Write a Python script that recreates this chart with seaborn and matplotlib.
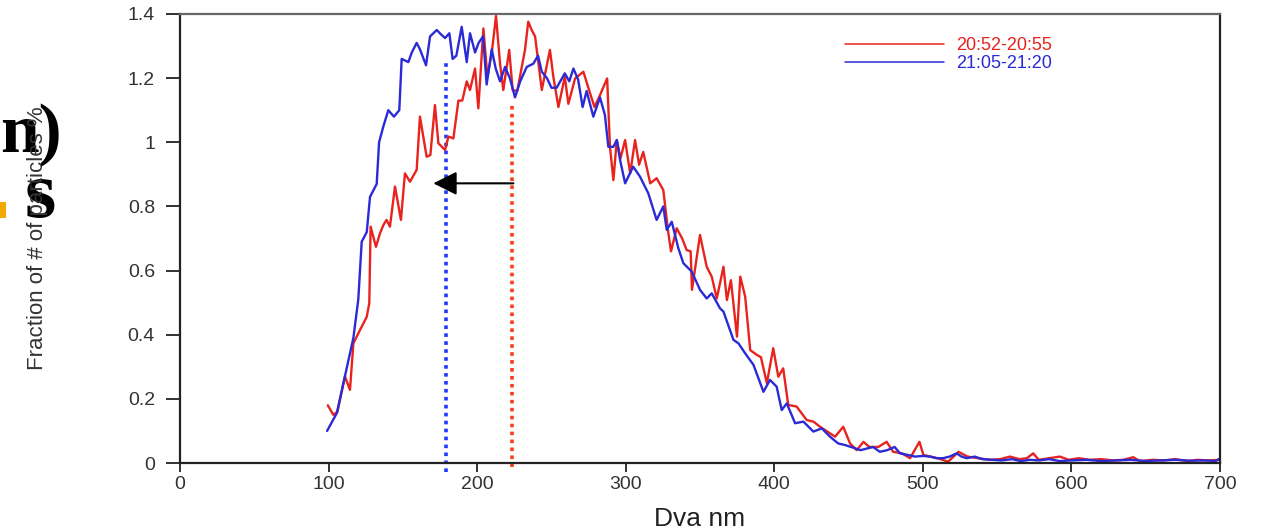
import numpy as np
import pandas as pd
import matplotlib
matplotlib.use("Agg")
import matplotlib.pyplot as plt
from matplotlib.patches import Rectangle
import seaborn as sns

# ---------------- data ----------------
series_labels = ["20:52-20:55", "21:05-21:20"]

red_x = [99.5, 103.2, 106, 111, 114.4, 116.7, 121.2, 125.7, 127.4, 128.3, 131.9, 134.6,
         136.9, 139, 141.3, 144.7, 148.7, 151.4, 154.8, 159.3, 161.5, 166, 168.5, 171.6,
         173.9, 178.4, 180.7, 184, 187.4, 190, 193, 195.2, 198.6, 200.8, 204.2, 206.9,
         209.8, 212.7, 215.4, 217.6, 221.6, 223.9, 227, 232.2, 234.4, 236.7, 239, 243.5,
         246, 249, 251.3, 254.7, 259, 261.4, 265.9, 271.5, 276, 279, 282, 287.5, 289.4,
         291.7, 294, 296.5, 299.6, 303, 306.3, 309, 311.8, 316.5, 320.8, 325.3, 328.7,
         330.5, 334.3, 338, 341, 343.7, 344.6, 350, 354.5, 357.9, 361.3, 365.8, 368.1,
         370.8, 374.9, 377.1, 380.4, 383.8, 388.3, 391, 395, 399.3, 402.7, 406, 409.4,
         415, 421.8, 426.3, 430.8, 435, 440.9, 446.4, 451, 455.5, 460, 464, 470, 475.6,
         480, 486, 491.4, 497.7, 500.4, 505, 510, 517, 524, 530, 537, 545, 552, 558.7,
         565, 570, 574.3, 578, 585, 592.3, 598, 605, 612, 620, 628, 635, 641.6, 646, 655,
         662, 670, 678, 685, 692, 700]
red_y = [0.18, 0.15, 0.16, 0.27, 0.228, 0.373, 0.415, 0.456, 0.498, 0.737, 0.674, 0.716,
         0.742, 0.758, 0.737, 0.862, 0.758, 0.903, 0.877, 0.914, 1.08, 0.955, 0.96, 1.116,
         0.997, 0.976, 1.018, 1.012, 1.13, 1.13, 1.19, 1.163, 1.23, 1.106, 1.355, 1.204,
         1.277, 1.394, 1.246, 1.163, 1.288, 1.163, 1.16, 1.288, 1.376, 1.35, 1.33, 1.163,
         1.22, 1.288, 1.204, 1.11, 1.204, 1.12, 1.199, 1.22, 1.153, 1.11, 1.14, 1.199, 0.986,
         0.882, 1.007, 0.95, 1.007, 0.903, 1.007, 0.93, 0.97, 0.872, 0.888, 0.851, 0.716,
         0.66, 0.732, 0.70, 0.664, 0.66, 0.54, 0.711, 0.612, 0.581, 0.513, 0.612, 0.508,
         0.57, 0.394, 0.581, 0.519, 0.352, 0.337, 0.33, 0.249, 0.358, 0.269, 0.295, 0.181,
         0.176, 0.134, 0.129, 0.113, 0.10, 0.082, 0.113, 0.061, 0.04, 0.066, 0.05, 0.05, 0.066,
         0.035, 0.03, 0.015, 0.066, 0.025, 0.02, 0.015, 0.004, 0.035, 0.02, 0.015, 0.01, 0.012, 0.02,
         0.012, 0.015, 0.03, 0.01, 0.015, 0.02, 0.01, 0.015, 0.01, 0.012, 0.008, 0.01, 0.018, 0.006, 0.01,
         0.008, 0.012, 0.006, 0.01, 0.008, 0.01]

blue_x = [99, 105.5, 111, 116.7, 120, 122.3, 125.7, 127.9, 132.4, 134, 136.9, 140.2, 144,
          147.6, 149.2, 153.7, 156, 159.3, 161.5, 165.6, 168.3, 172.8, 176, 178.4, 181.3,
          183.5, 186, 189.6, 193, 195.2, 198.6, 201, 204, 206.4, 209.8, 212.5, 215.4, 218.8,
          222, 225.5, 229, 233.4, 237.8, 241, 243.5, 247, 250, 253.5, 259, 262, 264.8, 268,
          271, 273.7, 278.2, 282.7, 286, 288.3, 291.7, 294, 296.2, 299.6, 305, 309.6, 315.2,
          320.8, 325.3, 327.6, 331, 335.4, 338.8, 344.4, 350, 354.5, 357.9, 363.5, 365.8,
          372.5, 375.9, 380.4, 386, 392.7, 397.1, 401.6, 405, 408.4, 414, 419.6, 426.3, 432,
          437.5, 443, 447.6, 453, 458, 466.5, 471, 476, 481, 484.6, 490, 494.7, 500, 505, 509,
          513.6, 518, 522.8, 526, 529.5, 535, 540, 547, 553, 560, 566, 572, 578, 585, 592,
          600, 610, 620, 630, 640, 650, 660, 670, 680, 690, 697, 700]
blue_y = [0.10, 0.155, 0.27, 0.39, 0.51, 0.69, 0.72, 0.83, 0.87, 1.00, 1.05, 1.10, 1.08,
          1.10, 1.26, 1.25, 1.28, 1.31, 1.29, 1.24, 1.33, 1.35, 1.335, 1.325, 1.34,
          1.26, 1.27, 1.36, 1.25, 1.34, 1.28, 1.31, 1.33, 1.18, 1.29, 1.23, 1.19, 1.235,
          1.20, 1.14, 1.19, 1.235, 1.245, 1.27, 1.22, 1.20, 1.17, 1.17, 1.215, 1.19, 1.23, 1.195,
          1.11, 1.16, 1.08, 1.14, 1.085, 0.986, 0.986, 1.007, 0.945, 0.872, 0.924, 0.893, 0.841,
          0.758, 0.80, 0.727, 0.752, 0.67, 0.623, 0.597, 0.54, 0.513, 0.529, 0.482, 0.472,
          0.384, 0.373, 0.342, 0.306, 0.222, 0.259, 0.238, 0.165, 0.186, 0.124, 0.129, 0.098, 0.108,
          0.082, 0.061, 0.056, 0.048, 0.04, 0.05, 0.035, 0.04, 0.05, 0.03, 0.025, 0.02, 0.022, 0.02, 0.015,
          0.015, 0.02, 0.03, 0.02, 0.015, 0.02, 0.012, 0.01, 0.008, 0.012, 0.006, 0.01, 0.008, 0.012, 0.006,
          0.008, 0.01, 0.006, 0.008, 0.01, 0.006, 0.008, 0.01, 0.007, 0.008, 0.006, 0.014]

# dotted marker lines (mode diameters) and arrow
marker_x = [179.0, 223.5]
marker_top = [1.26, 1.12]
marker_bottom = [-0.027, -0.012]
arrow_from = (224.4, 0.872)
arrow_to = (170.5, 0.872)

x_ticks = [0, 100, 200, 300, 400, 500, 600, 700]
y_ticks = [0, 0.2, 0.4, 0.6, 0.8, 1.0, 1.2, 1.4]
y_tick_labels = ["0", "0.2", "0.4", "0.6", "0.8", "1", "1.2", "1.4"]

# ---------------- styling ----------------
sns.set_style("white")
plt.rcParams["font.family"] = ["Liberation Sans", "DejaVu Sans"]

red = "#e8231e"
blue = "#2a2ad6"
palette = {series_labels[0]: red, series_labels[1]: blue}

df = pd.concat([
    pd.DataFrame({"x": red_x, "y": red_y, "series": series_labels[0]}),
    pd.DataFrame({"x": blue_x, "y": blue_y, "series": series_labels[1]}),
], ignore_index=True)

fig = plt.figure(figsize=(12.65, 5.30), dpi=100)
fig.patch.set_facecolor("white")

# partial slide text at the far left (cropped)
serif = ["Liberation Serif", "DejaVu Serif"]
fig.text(62 / 1265, (530 - 152) / 530, "n)", ha="right", va="baseline",
         fontsize=50, fontweight="bold", family=serif, color="black", zorder=-1)
fig.text(56 / 1265, (530 - 217) / 530, "s", ha="right", va="baseline",
         fontsize=58, fontweight="bold", family=serif, color="black", zorder=-1)
fig.patches.append(Rectangle((0, (530 - 218) / 530), 6 / 1265, 16 / 530,
                             transform=fig.transFigure, facecolor="#f2a900",
                             edgecolor="none", zorder=-1))

ax = fig.add_axes([180 / 1265, 67 / 530, 1040 / 1265, 449 / 530])
ax.set_facecolor("none")

sns.lineplot(data=df, x="x", y="y", hue="series", palette=palette, sort=False,
             estimator=None, linewidth=1.7, ax=ax, legend=True)

ax.set_xlim(0, 700)
ax.set_ylim(0, 1.4)
ax.set_xticks(x_ticks)
ax.set_yticks(y_ticks)
ax.set_yticklabels(y_tick_labels)

for name, sp in ax.spines.items():
    sp.set_visible(True)
    sp.set_linewidth(1.6)
    sp.set_color("#222222")
ax.spines["top"].set_color("#666666")

ax.tick_params(axis="x", direction="out", length=6.5, width=1.3, color="#222222",
               labelsize=14, labelcolor="#333333", pad=3, bottom=True)
ax.tick_params(axis="y", direction="out", length=10, width=1.3, color="#222222",
               labelsize=14, labelcolor="#333333", pad=8, left=True)

# mode markers
ax.vlines(marker_x[0], marker_bottom[0], marker_top[0], colors="#1f3bff",
          linestyles=(0, (1, 1.2)), linewidth=2.6, clip_on=False, zorder=1)
ax.vlines(marker_x[1], marker_bottom[1], marker_top[1], colors="#ff3a1a",
          linestyles=(0, (1, 1.2)), linewidth=2.6, clip_on=False, zorder=1)

ax.annotate("", xy=arrow_to, xytext=arrow_from,
            arrowprops=dict(arrowstyle="-|>", color="black", lw=1.5,
                            mutation_scale=36, shrinkA=0, shrinkB=0))

ax.set_xlabel("Dva nm", fontsize=19, color="#222222")
ax.xaxis.label.set_va("center")
ax.xaxis.set_label_coords(0.5, (463 - 519) / 449)
ax.set_ylabel("Fraction of # of particles %", fontsize=16, color="#333333")
ax.yaxis.label.set_va("center")
ax.yaxis.set_label_coords((38 - 180) / 1040, 0.5)

leg = ax.legend(loc="upper left", bbox_to_anchor=((845 - 180) / 1040, (463 - 37) / 449),
                frameon=False, fontsize=13, handlelength=5.5, handletextpad=0.65,
                labelspacing=0.05, borderaxespad=0, borderpad=0)
for line, text in zip(leg.get_lines(), leg.get_texts()):
    line.set_linewidth(1.1)
    text.set_color(line.get_color())

fig.savefig("out.png", dpi=100, facecolor="white")
